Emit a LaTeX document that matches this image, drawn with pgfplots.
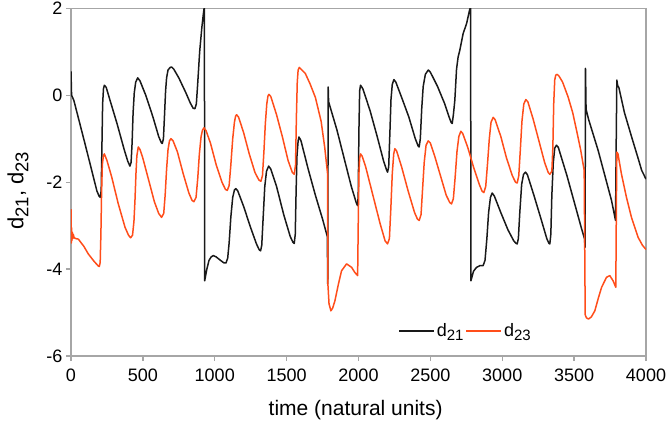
\documentclass[border=0pt]{standalone}
\usepackage{fontspec}
\setmainfont{Liberation Sans}
\usepackage{pgfplots}
\pgfplotsset{compat=1.18}
\definecolor{dblack}{RGB}{25,25,25}
\definecolor{dorange}{RGB}{255,77,26}
\definecolor{axgray}{RGB}{166,166,166}
\newcommand{\lsub}[1]{\raisebox{-5pt}{\fontsize{18.5}{18.5}\selectfont #1}}
\newcommand{\gsub}[1]{\raisebox{-4pt}{\fontsize{15}{15}\selectfont #1}}
\begin{document}
\begin{tikzpicture}
\begin{axis}[
 at={(0,0)}, anchor=south west,
 scale only axis, width=575pt, height=347.7pt,
 xmin=0, xmax=4000, ymin=-6, ymax=2,
 xtick={0,500,...,4000},
 xticklabels={0,500,1000,1500,2000,2500,3000,3500,4000},
 ytick={-6,-4,-2,0,2},
 yticklabels={-6,-4,-2,0,2},
 tick align=outside, tick pos=left,
 major tick length=5pt,
 axis line style={axgray, line width=1.3pt},
 tick style={axgray, line width=1.3pt},
 ticklabel style={font=\fontsize{18}{20}\selectfont, text=black},
 xticklabel style={yshift=-4pt},
 every axis x label/.style={at={(axis description cs:0.495,-0.155)}, anchor=center},
 every axis y label/.style={at={(axis description cs:-0.092,0.475)}, rotate=90, anchor=center},
 xlabel={time (natural units)},
 ylabel={d\lsub{21}, d\lsub{23}},
 xlabel style={font=\fontsize{21}{24}\selectfont},
 ylabel style={font=\fontsize{22}{24}\selectfont},
 legend style={at={(axis description cs:0.569,0.072)}, anchor=west, draw=none, fill=none,
   font=\fontsize{18}{20}\selectfont, inner sep=0pt,
   nodes={inner sep=2pt}},
 legend columns=2,
 legend image code/.code={\draw[#1] (0pt,0pt) -- (35pt,0pt);},
 legend cell align=left,
 every axis plot/.append style={line width=1.5pt, line join=round},
]
\addplot[dblack, mark=none] coordinates {
(0,0.55)(4,0.0)(20,-0.12)(100,-1.15)(180,-2.2)(195,-2.32)(203,-2.35)(210,-2.2)(215,-1.2)(220,-0.2)(226,0.15)(232,0.23)(245,0.18)
(270,-0.1)(320,-0.65)(370,-1.25)(395,-1.52)(410,-1.63)(418,-1.55)(425,-1.1)(432,-0.4)(440,0.05)(450,0.3)(464,0.40)(480,0.33)
(520,0.0)(570,-0.5)(610,-0.95)(628,-1.09)(635,-1.11)(643,-1.0)(650,-0.5)(658,0.1)(665,0.4)(675,0.58)(690,0.64)(700,0.65)(715,0.6)
(750,0.4)(800,0.05)(830,-0.18)(850,-0.3)(862,-0.31)(872,-0.2)(882,0.3)(895,1.0)(910,1.55)(920,1.85)(928,2.05)(930,-4.27)
(945,-4.0)(960,-3.8)(975,-3.72)(990,-3.69)(1010,-3.72)(1040,-3.8)(1065,-3.86)(1078,-3.86)(1090,-3.75)(1100,-3.4)(1112,-2.8)(1125,-2.35)(1137,-2.18)(1147,-2.15)(1160,-2.2)
(1200,-2.55)(1250,-3.05)(1290,-3.42)(1310,-3.56)(1319,-3.58)(1327,-3.45)(1337,-2.8)(1348,-2.1)(1360,-1.75)(1375,-1.63)(1390,-1.7)
(1430,-2.1)(1480,-2.75)(1525,-3.25)(1545,-3.39)(1553,-3.41)(1560,-3.2)(1566,-2.2)(1572,-1.4)(1580,-1.05)(1586,-0.96)(1600,-1.05)
(1650,-1.7)(1700,-2.3)(1750,-2.85)(1783,-3.25)(1786,-4.34)(1789,0.19)(1792,-0.15)
(1850,-0.8)(1900,-1.45)(1950,-2.1)(1985,-2.48)(1994,-2.54)(1998,-2.3)(2003,-0.8)(2008,0.1)(2014,0.23)(2030,0.15)
(2080,-0.35)(2130,-0.95)(2175,-1.52)(2195,-1.72)(2202,-1.77)(2210,-1.65)(2218,-0.9)(2226,-0.1)(2235,0.25)(2246,0.36)(2260,0.3)
(2300,-0.05)(2350,-0.5)(2395,-1.0)(2415,-1.17)(2422,-1.19)(2430,-1.0)(2440,-0.3)(2450,0.2)(2465,0.48)(2485,0.58)(2500,0.53)
(2550,0.2)(2600,-0.2)(2630,-0.5)(2645,-0.63)(2652,-0.65)(2660,-0.45)(2670,-0.12)(2682,0.6)(2693,0.88)(2705,1.04)(2728,1.42)(2752,1.65)(2770,1.92)(2780,2.05)(2782,-4.27)
(2800,-4.05)(2821,-3.96)(2845,-3.92)(2867,-3.92)(2880,-3.8)(2893,-3.3)(2905,-2.7)(2918,-2.35)(2930,-2.25)(2945,-2.32)
(2990,-2.7)(3040,-3.1)(3080,-3.35)(3096,-3.41)(3104,-3.42)(3112,-3.3)(3122,-2.7)(3135,-2.05)(3148,-1.82)(3162,-1.77)(3175,-1.83)
(3220,-2.3)(3270,-2.85)(3310,-3.3)(3325,-3.41)(3331,-3.42)(3338,-3.2)(3345,-2.3)(3355,-1.55)(3365,-1.22)(3377,-1.15)(3390,-1.2)
(3450,-1.85)(3500,-2.45)(3550,-3.05)(3572,-3.3)(3576,-3.5)(3579,0.62)(3583,-0.32)
(3600,-0.55)(3667,-1.27)(3760,-2.42)(3788,-2.88)(3793,-1.0)(3797,0.35)(3803,0.22)(3811,0.18)
(3850,-0.4)(3900,-0.96)(3945,-1.45)(3970,-1.73)(4000,-1.93)
};
\addlegendentry{d\gsub{21}}
\addplot[dorange, mark=none] coordinates {
(0,-2.62)(2,-3.4)(4,-3.05)(6,-3.35)(9,-3.15)(12,-3.3)(16,-3.2)(22,-3.28)(35,-3.3)
(51,-3.31)(90,-3.48)(120,-3.65)(160,-3.82)(190,-3.93)(197,-3.94)(203,-3.85)(208,-3.2)(213,-2.2)(218,-1.6)(225,-1.4)(232,-1.35)
(250,-1.5)(283,-1.88)(329,-2.5)(376,-3.04)(400,-3.22)(415,-3.28)(428,-3.22)(438,-2.9)(445,-2.42)(452,-1.8)(458,-1.4)(468,-1.19)(480,-1.25)
(500,-1.45)(540,-1.95)(580,-2.45)(610,-2.72)(630,-2.81)(645,-2.72)(655,-2.3)(665,-1.7)(675,-1.25)(685,-1.05)(695,-1.0)(710,-1.05)
(740,-1.3)(780,-1.8)(820,-2.25)(842,-2.42)(855,-2.45)(870,-2.35)(882,-1.9)(893,-1.35)(905,-0.95)(915,-0.8)(925,-0.75)(940,-0.82)
(970,-1.1)(1010,-1.6)(1050,-2.0)(1075,-2.17)(1087,-2.19)(1100,-2.08)(1112,-1.6)(1125,-1.0)(1137,-0.62)(1145,-0.48)(1152,-0.45)(1165,-0.5)
(1200,-0.85)(1240,-1.35)(1280,-1.78)(1307,-1.95)(1321,-1.98)(1332,-1.85)(1342,-1.3)(1352,-0.65)(1362,-0.2)(1370,-0.02)(1377,0.02)(1390,-0.03)
(1430,-0.45)(1470,-0.95)(1510,-1.5)(1540,-1.78)(1553,-1.82)(1562,-1.6)(1568,-0.5)(1574,0.3)(1580,0.58)(1588,0.64)(1600,0.6)
(1630,0.5)(1662,0.27)(1700,-0.05)(1740,-0.6)(1765,-1.2)(1785,-1.81)(1787,-4.34)(1795,-4.8)(1808,-4.96)(1820,-4.9)(1836,-4.73)(1860,-4.35)(1882,-4.04)(1917,-3.88)(1952,-3.96)(1975,-4.08)(1994,-4.15)(1998,-3.0)(2003,-1.8)(2008,-1.45)(2014,-1.35)(2025,-1.4)
(2050,-1.65)(2100,-2.3)(2150,-2.95)(2185,-3.35)(2202,-3.42)(2215,-3.3)(2225,-2.6)(2235,-1.8)(2245,-1.35)(2253,-1.23)(2265,-1.28)
(2300,-1.65)(2345,-2.2)(2390,-2.7)(2410,-2.85)(2422,-2.88)(2435,-2.75)(2445,-2.2)(2457,-1.55)(2470,-1.15)(2485,-1.05)(2500,-1.1)
(2530,-1.4)(2570,-1.85)(2610,-2.3)(2635,-2.47)(2647,-2.5)(2660,-2.38)(2672,-1.9)(2685,-1.3)(2698,-0.95)(2712,-0.83)(2725,-0.88)
(2760,-1.2)(2800,-1.65)(2840,-2.05)(2860,-2.21)(2872,-2.24)(2885,-2.1)(2897,-1.6)(2910,-1.0)(2922,-0.62)(2937,-0.51)(2950,-0.56)
(2990,-0.95)(3030,-1.45)(3070,-1.85)(3092,-2.0)(3104,-2.02)(3115,-1.85)(3125,-1.3)(3137,-0.6)(3150,-0.2)(3164,-0.10)(3178,-0.15)
(3215,-0.55)(3255,-1.05)(3295,-1.55)(3320,-1.78)(3331,-1.82)(3345,-1.75)(3352,-1.2)(3358,-0.2)(3365,0.35)(3372,0.46)(3382,0.48)(3395,0.44)
(3420,0.3)(3458,-0.04)(3490,-0.4)(3517,-0.81)(3545,-1.25)(3570,-1.73)(3577,-5.05)(3585,-5.12)(3600,-5.15)(3620,-5.1)(3644,-4.96)(3670,-4.65)(3691,-4.42)(3725,-4.19)(3748,-4.15)(3771,-4.27)(3790,-4.42)(3794,-2.5)(3797,-1.31)(3805,-1.35)
(3829,-1.81)(3864,-2.35)(3899,-2.81)(3945,-3.27)(3975,-3.45)(4000,-3.55)
};
\addlegendentry{d\gsub{23}}
\end{axis}
\pgfresetboundingbox
\useasboundingbox (-71pt,-72pt) rectangle (595pt,356pt);
\end{tikzpicture}
\end{document}
